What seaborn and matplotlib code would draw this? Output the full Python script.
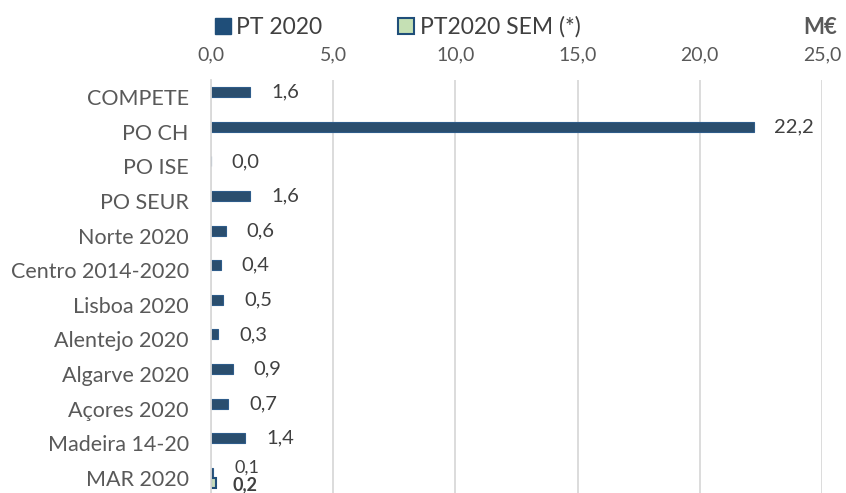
import pandas as pd
import seaborn as sns
import matplotlib.pyplot as plt
from matplotlib.patches import Patch

# data (M€)
programas = ["COMPETE", "PO CH", "PO ISE", "PO SEUR", "Norte 2020", "Centro 2014-2020",
             "Lisboa 2020", "Alentejo 2020", "Algarve 2020", "Açores 2020",
             "Madeira 14-20", "MAR 2020"]
pt2020 = [1.6, 22.2, 0.0, 1.6, 0.6, 0.4, 0.5, 0.3, 0.9, 0.7, 1.4, 0.1]
pt2020_sem = [None] * 11 + [0.2]
series = ["PT 2020", "PT2020 SEM (*)"]
xticks = [0, 5, 10, 15, 20, 25]

def fmt(v):
    return f"{v:.1f}".replace(".", ",")

df = pd.DataFrame({
    "programa": programas * 2,
    "valor": pt2020 + pt2020_sem,
    "serie": [series[0]] * len(programas) + [series[1]] * len(programas),
})

sns.set_style("white")
plt.rcParams["font.family"] = ["Lato", "DejaVu Sans"]

fig = plt.figure(figsize=(8.46, 4.93), dpi=100)
ax = fig.add_axes([211 / 846, 0, (822 - 211) / 846, 1 - 80 / 493])

cores = {"PT 2020": "#1F4E79", "PT2020 SEM (*)": "#C5E0B4"}
sns.barplot(data=df, y="programa", x="valor", hue="serie", orient="h",
            palette=cores, width=0.58, errorbar=None, ax=ax, legend=False)

# bar outlines
for patch in ax.containers[0]:
    patch.set_edgecolor("#2E5C8A")
    patch.set_linewidth(0.8)
for patch in ax.containers[1]:
    patch.set_edgecolor("#1F4E79")
    patch.set_linewidth(1.5)

pt_txt = ax.bar_label(ax.containers[0], labels=[fmt(v) for v in pt2020], padding=15,
                      fontsize=14.5, color="#404040")
sem_txt = ax.bar_label(ax.containers[1], labels=[fmt(v) for v in pt2020_sem if v is not None],
                       padding=12, fontsize=13, color="#404040", fontweight="bold")
# MAR 2020 has two tiny bars: nudge both labels apart
pt_txt[-1].set_fontsize(13)
pt_txt[-1].xyann = (15, 3.5)
for t in sem_txt:
    t.xyann = (12, -1.5)

ax.set_xlim(0, 25)
ax.set_ylim(11.44, -0.5)
ax.set_xticks(xticks)
ax.set_xticklabels([fmt(t) for t in xticks])
ax.xaxis.tick_top()
ax.tick_params(axis="x", length=0, labelsize=14, labelcolor="#595959", pad=12)
ax.tick_params(axis="y", length=0, labelsize=15.5, labelcolor="#595959", pad=16)
ax.set_xlabel("")
ax.set_ylabel("")
ax.grid(axis="x", color="#D9D9D9", linewidth=1.3)
ax.set_axisbelow(True)
for s in ["top", "right", "bottom"]:
    ax.spines[s].set_visible(False)
ax.spines["left"].set_color("#D9D9D9")
ax.spines["left"].set_linewidth(1.3)

handles = [Patch(facecolor=cores[series[0]], edgecolor="#1F4E79"),
           Patch(facecolor=cores[series[1]], edgecolor="#1F4E79", linewidth=1.5)]
fig.legend(handles, series, loc="center", bbox_to_anchor=(0.47, 0.945), ncol=2,
           frameon=False, fontsize=16.5, labelcolor="#404040", handlelength=0.7,
           handleheight=0.7, handletextpad=0.25, columnspacing=3.3)
fig.text(0.99, 0.945, "M€", ha="right", va="center", fontsize=16,
         fontweight="bold", color="#595959")

fig.savefig("out.png", dpi=100)
plt.close()
